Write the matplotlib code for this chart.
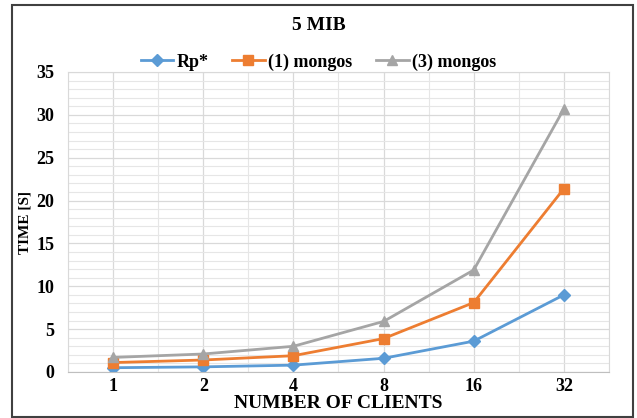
import matplotlib
matplotlib.use("Agg")
import matplotlib.pyplot as plt
from matplotlib.patches import Rectangle
from matplotlib.ticker import MultipleLocator

categories = ["1", "2", "4", "8", "16", "32"]
rp = [0.5, 0.6, 0.8, 1.6, 3.6, 9.0]
mongos1 = [1.1, 1.4, 1.9, 3.9, 8.1, 21.4]
mongos3 = [1.7, 2.1, 3.0, 5.9, 11.9, 30.7]
series_names = ["Rp*", "(1) mongos", "(3) mongos"]

plt.rcParams['font.family'] = ['Liberation Serif', 'DejaVu Serif']

fig = plt.figure(figsize=(6.37, 4.18), dpi=100)
fig.patches.append(Rectangle((12 / 637, 1 / 418), 621 / 637, 412 / 418, transform=fig.transFigure,
                             fill=False, edgecolor='#404040', linewidth=1.5))
ax = fig.add_axes([68 / 637, 1 - 372 / 418, 541 / 637, 300 / 418])

x = list(range(len(categories)))
ax.plot(x, rp, color='#5B9BD5', marker='D', markersize=6, linewidth=2, label=series_names[0])
ax.plot(x, mongos1, color='#ED7D31', marker='s', markersize=7, linewidth=2, label=series_names[1])
ax.plot(x, mongos3, color='#A5A5A5', marker='^', markersize=7, linewidth=2, label=series_names[2])

ax.set_xlim(-0.5, len(categories) - 0.5)
ax.set_ylim(0, 35)
ax.set_xticks(x)
ax.set_xticklabels(categories)
ax.yaxis.set_major_locator(MultipleLocator(5))
ax.yaxis.set_minor_locator(MultipleLocator(1))
ax.xaxis.set_minor_locator(MultipleLocator(0.5))
ax.grid(True, which='major', axis='both', color='#D9D9D9', linewidth=0.9)
ax.grid(True, which='minor', axis='both', color='#E6E6E6', linewidth=0.8)
ax.set_axisbelow(True)
for s in ['top', 'right', 'left']:
    ax.spines[s].set_color('#D9D9D9')
ax.spines['bottom'].set_color('#BFBFBF')
ax.tick_params(which='both', length=0)
for lab in ax.get_xticklabels() + ax.get_yticklabels():
    lab.set_fontweight('bold')
    lab.set_fontsize(13)
ax.tick_params(axis='y', pad=10)
ax.tick_params(axis='x', pad=4)

ax.set_xlabel("NUMBER OF CLIENTS", fontsize=14, fontweight='bold', va='center')
ax.xaxis.set_label_coords(0.5, (372 - 404) / 300)
ax.set_ylabel("TIME [S]", fontsize=11, fontweight='bold', va='center')
ax.yaxis.set_label_coords((25 - 68) / 541, 0.5)

fig.text(0.5, 1 - 26 / 418, "5 MIB", ha='center', va='center', fontsize=14, fontweight='bold')
leg = fig.legend(loc='center', bbox_to_anchor=(0.5, 1 - 62 / 418), ncol=3, frameon=False,
                 prop={'weight': 'bold', 'size': 13}, handlelength=1.8, columnspacing=1.3,
                 handletextpad=0.2)

fig.savefig("out.png", dpi=100)
